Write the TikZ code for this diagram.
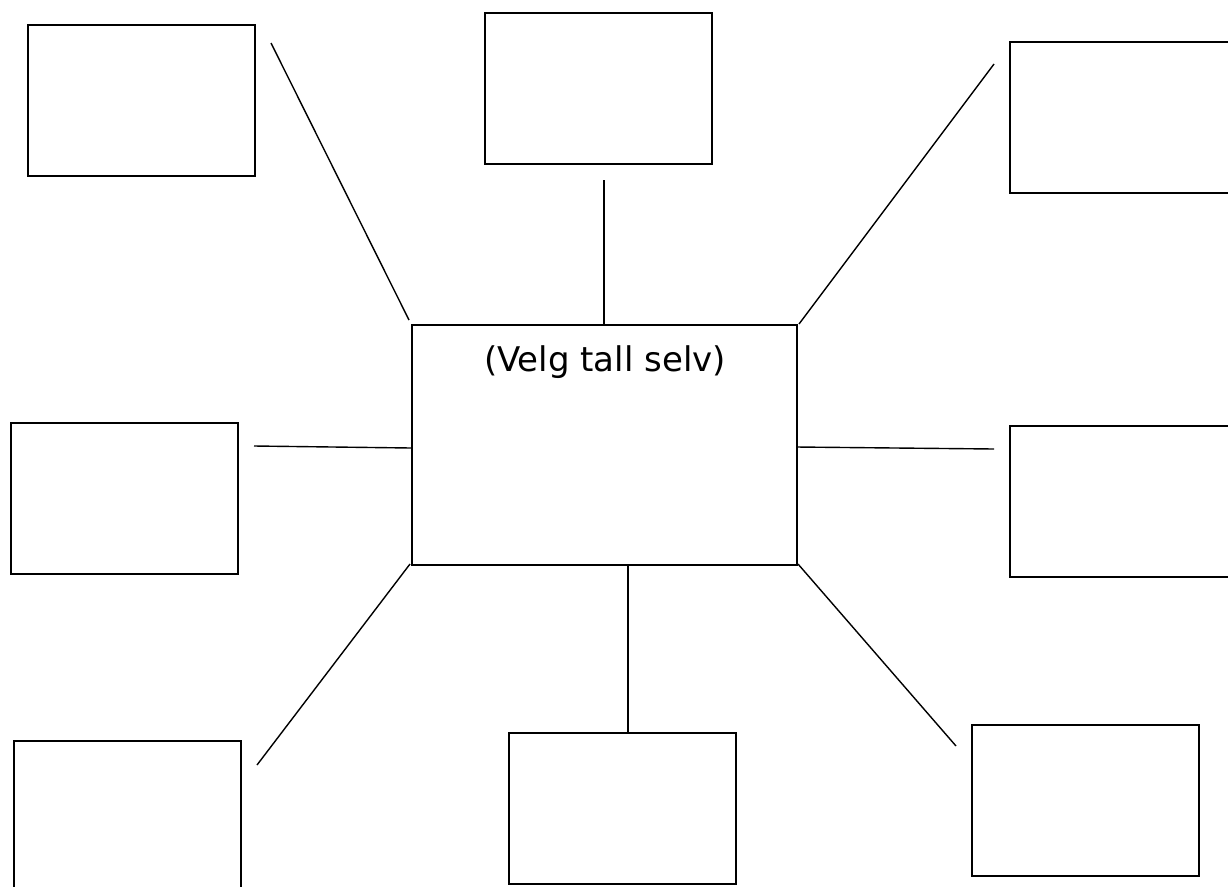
\documentclass[tikz,border=0pt]{standalone}
\usepackage{fontspec}
\setmainfont{DejaVu Sans}
\begin{document}
\begin{tikzpicture}[x=1pt,y=-1pt,
  box/.style={draw=black,line width=1.6pt,rectangle,inner sep=0pt,anchor=north west},
  link/.style={draw=black,line width=1.4pt}]
\clip (0,0) rectangle (1228,886);
\fill[white] (0,0) rectangle (1228,886);
% boxes
\node[box,minimum width=227pt,minimum height=151pt] (tl) at (27,24) {};
\node[box,minimum width=227pt,minimum height=151pt] (tm) at (484,12) {};
\node[box,minimum width=260pt,minimum height=151pt] (tr) at (1009,41) {};
\node[box,minimum width=227pt,minimum height=151pt] (ml) at (10,422) {};
\node[box,minimum width=260pt,minimum height=151pt] (mr) at (1009,425) {};
\node[box,minimum width=227pt,minimum height=160pt] (bl) at (13,740) {};
\node[box,minimum width=227pt,minimum height=151pt] (bm) at (508,732) {};
\node[box,minimum width=227pt,minimum height=151pt] (br) at (971,724) {};
\node[box,minimum width=385pt,minimum height=240pt] (c) at (411,324) {};
\node[font=\fontsize{34}{40}\selectfont,anchor=base,inner sep=0pt] (t) at (605,371) {(Velg tall selv)};
% free ends
\coordinate (e1) at (271,43);
\coordinate (e2) at (604,180);
\coordinate (e3) at (994,64);
\coordinate (e4) at (254,446);
\coordinate (e5) at (994,449);
\coordinate (e6) at (257,765);
\coordinate (e8) at (956,746);
% center points
\coordinate (c1) at (409,320);
\coordinate (c3) at (799,324);
\coordinate (c4) at (411,448);
\coordinate (c5) at (796,447);
\coordinate (c6) at (410,564);
\coordinate (c8) at (798,564);
\draw[link] (e1) -- (c1);
\draw[link] (e2) -- (e2 |- c.north);
\draw[link] (e3) -- (c3);
\draw[link] (e4) -- (c4);
\draw[link] (c5) -- (e5);
\draw[link] (c6) -- (e6);
\draw[link] (628,564 |- c.south) -- (628,732 |- bm.north);
\draw[link] (c8) -- (e8);
\end{tikzpicture}
\end{document}
